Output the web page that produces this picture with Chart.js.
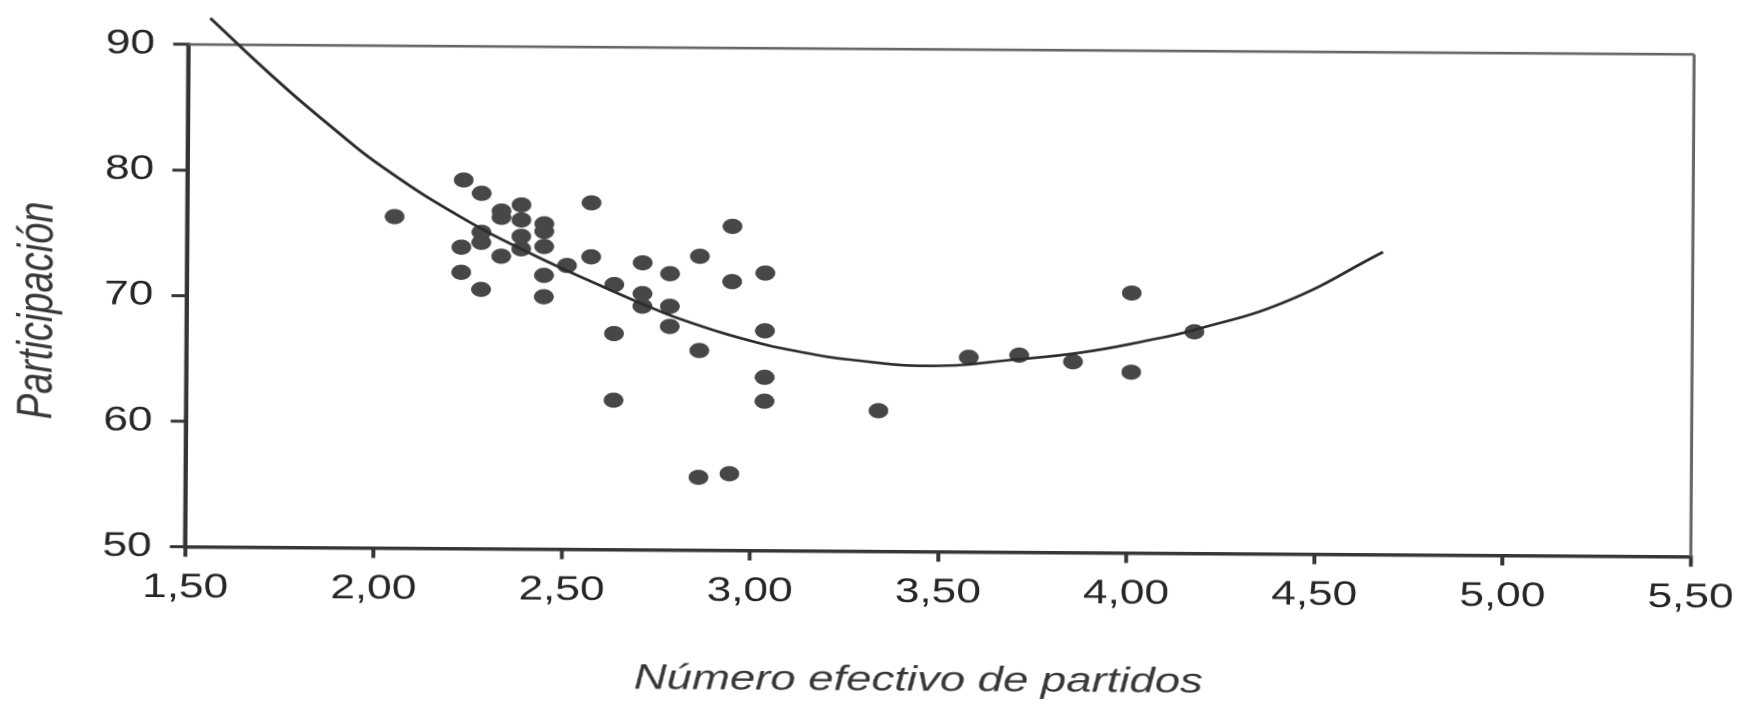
<!DOCTYPE html>
<html><head><meta charset="utf-8">
<script src="https://cdn.jsdelivr.net/npm/chart.js@4.4.1/dist/chart.umd.min.js"></script>
<style>
html,body{margin:0;padding:0;background:#fff;overflow:hidden;width:1751px;height:704px;}
#wrap{position:absolute;left:0;top:0;width:1347px;height:704px;transform-origin:0 0;transform:rotate(0.38deg) scaleX(1.3);}
</style></head><body>
<div id="wrap"><canvas id="c"></canvas></div>
<script>
const xTickValues = [1.5, 2, 2.5, 3, 3.5, 4, 4.5, 5, 5.5];
const xTickLabels = ['1,50','2,00','2,50','3,00','3,50','4,00','4,50','5,00','5,50'];
const yTickValues = [50, 60, 70, 80, 90];
const yTickLabels = ['50','60','70','80','90'];

const pointX = [2.05, 2.233, 2.281, 2.334, 2.334, 2.387, 2.387, 2.387, 2.387, 2.448, 2.448, 2.448,
  2.281, 2.281, 2.228, 2.334, 2.228, 2.281, 2.448, 2.448, 2.509, 2.573, 2.573, 2.635, 2.635, 2.635,
  2.710, 2.710, 2.710, 2.783, 2.783, 2.783, 2.862, 2.862, 2.862, 2.944, 2.948, 2.948,
  3.036, 3.036, 3.036, 3.036, 3.339, 3.578, 3.712, 3.855, 4.010, 4.010, 4.177];
const pointY = [76.4, 79.35, 78.3, 76.9, 76.4, 77.4, 76.2, 74.9, 73.9, 75.9, 75.3, 74.1,
  75.2, 74.4, 74.0, 73.3, 72.0, 70.65, 71.8, 70.1, 72.6, 77.6, 73.3, 71.1, 67.2, 61.9,
  72.85, 70.4, 69.4, 72.0, 69.4, 67.8, 73.4, 65.9, 55.8, 56.1, 75.8, 71.4,
  72.1, 67.5, 63.8, 61.9, 61.2, 65.5, 65.7, 65.2, 70.7, 64.4, 67.65];

const curveX = [1.557, 1.72, 1.881, 2.024, 2.226, 2.414, 2.599, 2.732, 2.82, 2.997, 3.129, 3.262, 3.482, 3.703, 3.88, 4.056, 4.177, 4.419, 4.677];
const curveY = [92.1, 87.6, 83.5, 80.2, 76.4, 73.5, 71.0, 69.3, 68.3, 66.7, 65.85, 65.25, 64.8, 65.35, 65.95, 66.95, 67.8, 70.1, 74.1];

const xTitle = 'Número efectivo de partidos';
const yTitle = 'Participación';

const axisColor = '#363636';
const textColor = '#262626';

const framePlugin = {
  id: 'frame',
  beforeDatasetsDraw(chart) {
    const {ctx, chartArea: a} = chart;
    ctx.save();
    ctx.strokeStyle = '#666666';
    ctx.lineWidth = 2.6;
    ctx.beginPath(); ctx.moveTo(a.left, a.top); ctx.lineTo(a.right, a.top); ctx.stroke();
    ctx.lineWidth = 2.2;
    ctx.beginPath(); ctx.moveTo(a.right, a.top); ctx.lineTo(a.right, a.bottom); ctx.stroke();
    ctx.restore();
  }
};

new Chart(document.getElementById('c'), {
  type: 'scatter',
  data: {
    datasets: [
      {
        type: 'line',
        data: curveX.map((x, i) => ({x, y: curveY[i]})),
        borderColor: '#2c2c2c',
        borderWidth: 2.6,
        pointRadius: 0,
        tension: 0.45,
        fill: false,
        clip: false,
        order: 0
      },
      {
        data: pointX.map((x, i) => ({x, y: pointY[i]})),
        backgroundColor: '#474747',
        borderWidth: 0,
        pointRadius: 7.6,
        pointHoverRadius: 7.6,
        order: 1
      }
    ]
  },
  plugins: [framePlugin],
  options: {
    responsive: true,
    maintainAspectRatio: false,
    animation: false,
    devicePixelRatio: 2,
    events: [],
    layout: { padding: { left: 0, right: 40.5, top: 43.2, bottom: 0 } },
    plugins: { legend: { display: false }, tooltip: { enabled: false } },
    scales: {
      x: {
        type: 'linear',
        min: 1.5, max: 5.5,
        afterFit: s => { s.height = 158.5; },
        afterBuildTicks: s => { s.ticks = xTickValues.map(v => ({value: v})); },
        ticks: {
          callback: (v, i) => xTickLabels[i],
          font: { family: '"Liberation Sans", Arial, sans-serif', size: 34 },
          color: textColor,
          padding: 10.5,
          maxRotation: 0,
          autoSkip: false
        },
        grid: { display: true, drawOnChartArea: false, drawTicks: true, tickLength: 10, lineWidth: 3, color: axisColor },
        border: { display: true, width: 3.5, color: axisColor },
        title: {
          display: true,
          text: xTitle + '   ',
          font: { family: '"Liberation Sans", Arial, sans-serif', size: 35, style: 'italic' },
          color: '#383838',
          padding: { top: 0, bottom: 8.4 }
        }
      },
      y: {
        type: 'linear',
        min: 50, max: 90,
        afterFit: s => { s.width = 145.4; },
        afterBuildTicks: s => { s.ticks = yTickValues.map(v => ({value: v})); },
        ticks: {
          callback: (v, i) => yTickLabels[i],
          font: { family: '"Liberation Sans", Arial, sans-serif', size: 34 },
          color: textColor,
          padding: 14
        },
        grid: { display: true, drawOnChartArea: false, drawTicks: true, tickLength: 12, lineWidth: 3, color: axisColor },
        border: { display: true, width: 3.5, color: axisColor },
        title: {
          display: true,
          text: yTitle + '   ',
          font: { family: '"Liberation Sans", Arial, sans-serif', size: 38, style: 'italic' },
          color: '#383838',
          padding: { top: 8, bottom: 0 }
        }
      }
    }
  }
});
</script>
</body></html>
